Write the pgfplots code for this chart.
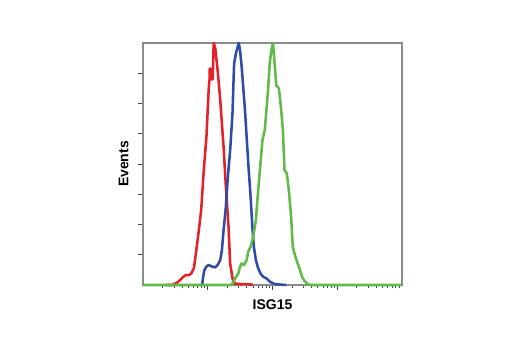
\documentclass[border=0pt]{standalone}
\usepackage{fontspec}
\setmainfont{Liberation Sans}
\usepackage{pgfplots}
\pgfplotsset{compat=1.18}
\definecolor{cred}{RGB}{230,32,40}
\definecolor{cblue}{RGB}{48,74,168}
\definecolor{cgreen}{RGB}{96,186,72}
\definecolor{cframe}{RGB}{140,140,140}
\begin{document}
\begin{tikzpicture}
\useasboundingbox (-107.25pt,-48.75pt) rectangle (282.75pt,213.75pt);
\begin{axis}[
  at={(0,0)}, anchor=south west,
  scale only axis,
  width=194.25pt, height=181.5pt,
  xmin=0, xmax=4, ymin=0, ymax=100,
  clip=false,
  axis line style={cframe, line width=0.9pt},
  xtick={1,2,3},
  minor xtick={0.301,0.477,0.602,0.699,0.778,0.845,0.903,0.954,
               1.301,1.477,1.602,1.699,1.778,1.845,1.903,1.954,
               2.301,2.477,2.602,2.699,2.778,2.845,2.903,2.954,
               3.301,3.477,3.602,3.699,3.778,3.845,3.903,3.954},
  ytick={12.5,25,37.5,50,62.5,75,87.5},
  xticklabels={}, yticklabels={},
  xtick pos=bottom, ytick pos=left,
  tick align=outside,
  major tick length=4pt, minor tick length=2.6pt,
  every tick/.style={black!75, line width=0.5pt},
  xlabel={ISG15}, ylabel={Events},
  every axis x label/.style={at={([yshift=-18pt]axis description cs:0.5,0)}, anchor=base, font=\bfseries\fontsize{10.5}{12}\selectfont},
  every axis y label/.style={at={([xshift=-11pt]axis description cs:0,0.5)}, rotate=90, anchor=base, font=\bfseries\fontsize{10.5}{12}\selectfont},
]
\addplot[cred, line width=1.9pt, line join=round] coordinates {
(0.35,0) (0.4555,0) (0.5318,1.1) (0.5827,2.3) (0.6234,3.4) (0.659,4.1) (0.7099,4.1) (0.7455,4.8) (0.7863,6.9) (0.8372,17.2) (0.8626,22.7) (0.8982,30.9) (0.9389,47.5) (0.9796,61.2) (1.0153,81.2) (1.0305,86.0) (1.0305,89.4) (1.0509,89.4) (1.0560,85.0) (1.0763,85.0) (1.0916,100) (1.1170,97.7) (1.1527,88.7) (1.1934,76.3) (1.2443,57.1) (1.2799,40.6) (1.3206,24.1) (1.3461,8.9) (1.3868,2.1) (1.4224,0.6) (1.4987,0.4) (1.65,0.3) (1.70,0)
};
\addplot[cblue, line width=1.9pt, line join=round] coordinates {
(0.9135,0) (0.9288,3.4) (0.9491,6.2) (0.9796,7.6) (1.0153,8.3) (1.0662,7.6) (1.117,7.3) (1.1527,8.3) (1.1934,10.3) (1.2188,14.4) (1.2443,22.7) (1.2799,32.3) (1.3104,44.7) (1.3461,55.7) (1.3817,70.8) (1.4071,91.5) (1.4377,96.0) (1.4784,100) (1.4987,97.0) (1.5242,90.1) (1.5496,81.2) (1.5751,72.2) (1.6005,61.2) (1.626,50.2) (1.6616,36.5) (1.6921,22.7) (1.7125,15.8) (1.743,10.3) (1.7786,6.9) (1.8142,4.8) (1.855,3.4) (1.9059,2.75) (1.9567,1.4) (2.0331,0.4) (2.1094,0.2) (2.2112,0)
};
\addplot[cgreen, line width=1.9pt, line join=round] coordinates {
(0,0) (1.3715,0) (1.3969,1.4) (1.4224,2.75) (1.4733,4.8) (1.4987,7.6) (1.5242,8.9) (1.5598,8.25) (1.6005,10.3) (1.626,13.8) (1.6616,15.8) (1.7023,19.9) (1.743,26.8) (1.7786,39.2) (1.8142,50.2) (1.8448,59.8) (1.8804,64.0) (1.9059,72.2) (1.9313,80.5) (1.9567,91.5) (1.9822,97.0) (2.0076,100) (2.0331,91.5) (2.0585,82.5) (2.0992,81.2) (2.1349,72.2) (2.1603,64.0) (2.1858,47.5) (2.2214,46.1) (2.2519,39.2) (2.2875,28.2) (2.313,15.8) (2.3537,11.7) (2.3893,8.9) (2.4249,6.2) (2.4555,3.4) (2.4911,1.8) (2.542,0.4) (2.5929,0) (4,0)
};
\end{axis}
\end{tikzpicture}
\end{document}
